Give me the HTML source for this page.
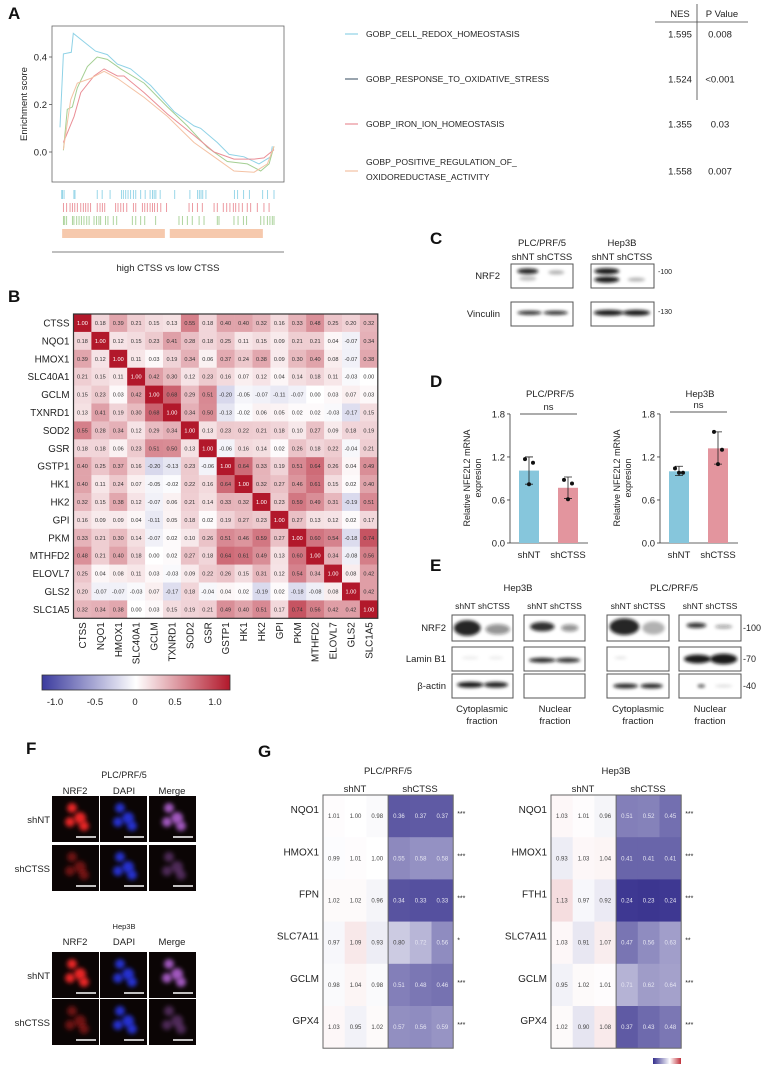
<!DOCTYPE html>
<html><head><meta charset="utf-8"><style>
html,body{margin:0;padding:0;background:#fff}
svg{display:block;font-family:"Liberation Sans",Arial,sans-serif}
</style></head><body>
<svg id="fig" width="764" height="1066" viewBox="0 0 764 1066" xmlns="http://www.w3.org/2000/svg">
<defs>
<filter id="blur1" x="-30%" y="-100%" width="160%" height="300%"><feGaussianBlur stdDeviation="1.6"/></filter>
<filter id="blur3" x="-50%" y="-50%" width="200%" height="200%"><feGaussianBlur stdDeviation="2"/></filter>
<linearGradient id="cbar" x1="0" x2="1"><stop offset="0" stop-color="#3b3b9e"/><stop offset="0.5" stop-color="#fff"/><stop offset="1" stop-color="#b2182b"/></linearGradient>
</defs>
<g font-weight="bold" font-size="17" fill="#111">
<text x="8" y="19">A</text>
<text x="8" y="302">B</text>
<text x="430" y="244">C</text>
<text x="430" y="387">D</text>
<text x="430" y="571">E</text>
<text x="26" y="754">F</text>
<text x="258" y="757">G</text>
</g>
<g id="gA"></g><g id="gB"></g><g id="gC"></g><g id="gD"></g><g id="gE"></g><g id="gF"></g><g id="gG"></g>
</svg>
<script>
var NS="http://www.w3.org/2000/svg";
function mk(p,tag,a,txt){var e=document.createElementNS(NS,tag);for(var k in a)e.setAttribute(k,a[k]);if(txt!==undefined)e.textContent=txt;p.appendChild(e);return e;}
function $(id){return document.getElementById(id);}

/* ---------- Panel A data ---------- */
var gseaNames=["GOBP_CELL_REDOX_HOMEOSTASIS","GOBP_RESPONSE_TO_OXIDATIVE_STRESS","GOBP_IRON_ION_HOMEOSTASIS","GOBP_POSITIVE_REGULATION_OF_"];
var gseaNES=["1.595","1.524","1.355","1.558"];
var gseaP=["0.008","<0.001","0.03","0.007"];
var blueX=[0,16,53,62,166,221,268,330,424,533,626,657,735,790,860,930,984,992];
var blueY=[0.104,0.413,0.42,0.50,0.425,0.41,0.37,0.35,0.28,0.17,0.11,0.10,0.04,-0.01,-0.02,-0.05,-0.02,0.024];
var greenX=[16,34,58,81,128,174,221,284,393,502,595,688,782,875,938,977,1000];
var greenY=[0.007,0.18,0.19,0.27,0.36,0.40,0.39,0.35,0.29,0.19,0.11,0.02,-0.04,-0.05,-0.08,-0.05,0.024];
var redX=[16,34,66,97,159,206,268,299,393,502,626,720,813,907,953,1000];
var redY=[0.04,0.08,0.15,0.25,0.32,0.35,0.32,0.32,0.25,0.16,0.07,0,-0.03,-0.03,-0.025,0.01];
var orangeX=[16,50,81,143,206,268,393,502,626,720,813,907,969,1000];
var orangeY=[0.01,0.22,0.29,0.31,0.34,0.31,0.23,0.15,0.04,-0.02,-0.08,-0.085,-0.05,0.024];
var rugBlue=[8,12,19,65,70,174,197,234,287,296,307,318,330,343,354,377,398,421,432,440,448,468,536,607,643,651,659,667,682,815,830,858,885,947,970,1000];
var rugRed=[16,31,47,58,69,81,97,109,120,131,143,174,187,198,209,260,271,284,296,312,343,354,385,396,408,421,432,442,455,471,498,603,619,642,665,720,735,763,779,794,810,821,836,852,875,891,922,953,977];
var rugGreen=[16,22,31,58,65,78,89,100,112,125,136,159,171,182,190,213,224,249,265,338,354,377,396,447,556,572,595,618,650,673,735,743,813,832,857,872,938,953,969,981,992,1000];
var rugOrange=[[10,490],[513,948]];
var esTicks=[0.0,0.2,0.4];

(function(){
var g=$("gA");
var X=function(r){return 60+r/1000*214;}, Y=function(v){return 152-v*237.5;};
var box=mk(g,"rect",{x:52,y:26,width:232,height:156,fill:"none",stroke:"#666","stroke-width":0.8});


esTicks.forEach(function(t){
 var tk=mk(g,"line",{x1:49,x2:52,y1:Y(t),y2:Y(t),stroke:"#555","stroke-width":0.8});
 
 
 var tl=mk(g,"text",{x:47,y:Y(t)+3.5,"font-size":9.5,"text-anchor":"end",fill:"#222"},t.toFixed(1));
 
 
});
var yt=mk(g,"text",{transform:"translate(27,104) rotate(-90)","font-size":9.5,"text-anchor":"middle",fill:"#222"},"Enrichment score");


var series=[[blueX,blueY,"#8fd2e6"],[greenX,greenY,"#a4cf93"],[redX,redY,"#ea8f97"],[orangeX,orangeY,"#f4c2a4"]];
series.forEach(function(s,i){
 var d=s[0].map(function(x,j){return (j?"L":"M")+X(x).toFixed(1)+","+Y(s[1][j]).toFixed(1);}).join("");
 var p=mk(g,"path",{d:d,fill:"none",stroke:s[2],"stroke-width":1});
 
 
});
var rugs=[[rugBlue,"#8fd2e6",190],[rugRed,"#ea8f97",203],[rugGreen,"#a4cf93",216]];
rugs.forEach(function(r,i){
 r[0].forEach(function(v){
  var l=mk(g,"line",{x1:X(v),x2:X(v),y1:r[2],y2:r[2]+9,stroke:r[1],"stroke-width":0.9});
  
  
 });
});
rugOrange.forEach(function(b){
 var r=mk(g,"rect",{x:X(b[0]),y:229,width:X(b[1])-X(b[0]),height:9,fill:"#f6c9ad"});
 
 
});
var ax=mk(g,"line",{x1:52,x2:284,y1:252,y2:252,stroke:"#555","stroke-width":0.8});


var xt=mk(g,"text",{x:168,y:271,"font-size":9.5,"text-anchor":"middle",fill:"#222"},"high CTSS vs low CTSS");


var lc=["#8fd2e6","#556677","#ea8f97","#f4c2a4"], ly=[34,79,124,171];
gseaNames.forEach(function(n,i){
 var l=mk(g,"line",{x1:345,x2:358,y1:ly[i],y2:ly[i],stroke:lc[i],"stroke-width":1.2});
 
 
 var t=mk(g,"text",{x:366,y:(i==3?165:ly[i]+3),"font-size":8.6,fill:"#222"},n);
 
 
 var ne=mk(g,"text",{x:680,y:ly[i]+3.5,"font-size":9.5,"text-anchor":"middle",fill:"#222"},gseaNES[i]);
 
 
 var pv=mk(g,"text",{x:720,y:ly[i]+3.5,"font-size":9.5,"text-anchor":"middle",fill:"#222"},gseaP[i]);
 
 
});
var t4=mk(g,"text",{x:366,y:180,"font-size":8.6,fill:"#222"},"OXIDOREDUCTASE_ACTIVITY");


var h1=mk(g,"text",{x:680,y:17,"font-size":9.5,"text-anchor":"middle",fill:"#222"},"NES");


var h2=mk(g,"text",{x:722,y:17,"font-size":9.5,"text-anchor":"middle",fill:"#222"},"P Value");


var hl=mk(g,"line",{x1:655,x2:748,y1:22,y2:22,stroke:"#444","stroke-width":0.8});


var vl=mk(g,"line",{x1:697,x2:697,y1:4,y2:100,stroke:"#444","stroke-width":0.8});


})();

/* ---------- Panel B data ---------- */
var genes=["CTSS","NQO1","HMOX1","SLC40A1","GCLM","TXNRD1","SOD2","GSR","GSTP1","HK1","HK2","GPI","PKM","MTHFD2","ELOVL7","GLS2","SLC1A5"];
var corr=[
[1.00,0.18,0.39,0.21,0.15,0.13,0.55,0.18,0.40,0.40,0.32,0.16,0.33,0.48,0.25,0.20,0.32],
[0.18,1.00,0.12,0.15,0.23,0.41,0.28,0.18,0.25,0.11,0.15,0.09,0.21,0.21,0.04,-0.07,0.34],
[0.39,0.12,1.00,0.11,0.03,0.19,0.34,0.06,0.37,0.24,0.38,0.09,0.30,0.40,0.08,-0.07,0.38],
[0.21,0.15,0.11,1.00,0.42,0.30,0.12,0.23,0.16,0.07,0.12,0.04,0.14,0.18,0.11,-0.03,0.00],
[0.15,0.23,0.03,0.42,1.00,0.68,0.29,0.51,-0.20,-0.05,-0.07,-0.11,-0.07,0.00,0.03,0.07,0.03],
[0.13,0.41,0.19,0.30,0.68,1.00,0.34,0.50,-0.13,-0.02,0.06,0.05,0.02,0.02,-0.03,-0.17,0.15],
[0.55,0.28,0.34,0.12,0.29,0.34,1.00,0.13,0.23,0.22,0.21,0.18,0.10,0.27,0.09,0.18,0.19],
[0.18,0.18,0.06,0.23,0.51,0.50,0.13,1.00,-0.06,0.16,0.14,0.02,0.26,0.18,0.22,-0.04,0.21],
[0.40,0.25,0.37,0.16,-0.20,-0.13,0.23,-0.06,1.00,0.64,0.33,0.19,0.51,0.64,0.26,0.04,0.49],
[0.40,0.11,0.24,0.07,-0.05,-0.02,0.22,0.16,0.64,1.00,0.32,0.27,0.46,0.61,0.15,0.02,0.40],
[0.32,0.15,0.38,0.12,-0.07,0.06,0.21,0.14,0.33,0.32,1.00,0.23,0.59,0.49,0.31,-0.19,0.51],
[0.16,0.09,0.09,0.04,-0.11,0.05,0.18,0.02,0.19,0.27,0.23,1.00,0.27,0.13,0.12,0.02,0.17],
[0.33,0.21,0.30,0.14,-0.07,0.02,0.10,0.26,0.51,0.46,0.59,0.27,1.00,0.60,0.54,-0.18,0.74],
[0.48,0.21,0.40,0.18,0.00,0.02,0.27,0.18,0.64,0.61,0.49,0.13,0.60,1.00,0.34,-0.08,0.56],
[0.25,0.04,0.08,0.11,0.03,-0.03,0.09,0.22,0.26,0.15,0.31,0.12,0.54,0.34,1.00,0.08,0.42],
[0.20,-0.07,-0.07,-0.03,0.07,-0.17,0.18,-0.04,0.04,0.02,-0.19,0.02,-0.18,-0.08,0.08,1.00,0.42],
[0.32,0.34,0.38,0.00,0.03,0.15,0.19,0.21,0.49,0.40,0.51,0.17,0.74,0.56,0.42,0.42,1.00]];
var cbarTicks=[-1.0,-0.5,0,0.5,1.0];

(function(){
var g=$("gB"), x0=73.5, y0=314, c=17.9, n=genes.length;
function col(v){var r,gg,b;if(v>=0){r=255-v*77;gg=255-v*231;b=255-v*212;}else{var t=-v;r=255-t*196;gg=255-t*196;b=255-t*97;}return "rgb("+Math.round(r)+","+Math.round(gg)+","+Math.round(b)+")";}
corr.forEach(function(row,i){
 row.forEach(function(v,j){
  var r=mk(g,"rect",{x:x0+j*c,y:y0+i*c,width:c+0.3,height:c+0.3,fill:col(v)});
  
  
  var t=mk(g,"text",{x:x0+j*c+c/2,y:y0+i*c+c/2+2,"font-size":5.6,"text-anchor":"middle",fill:(v>0.9?"#fff":"#333")},v.toFixed(2));
  
  
 });
});
var fr=mk(g,"rect",{x:x0,y:y0,width:n*c,height:n*c,fill:"none",stroke:"#333","stroke-width":1.2});


genes.forEach(function(gn,i){
 var t=mk(g,"text",{x:x0-4,y:y0+i*c+c/2+3.5,"font-size":9.8,"text-anchor":"end",fill:"#222"},gn);
 
 
 var xc=x0+i*c+c/2+3.5;
 var t2=mk(g,"text",{transform:"translate("+xc+","+(y0+n*c+4)+") rotate(-90)","font-size":9.8,"text-anchor":"end",fill:"#222"},gn);
 
 
});
var cb=mk(g,"rect",{x:42,y:675,width:188,height:15,fill:"url(#cbar)",stroke:"#333","stroke-width":0.8});


cbarTicks.forEach(function(t){
 var xx=55+(t+1)/2*160;
 var l=mk(g,"text",{x:xx,y:705,"font-size":9.5,"text-anchor":"middle",fill:"#222"},(t==0?"0":t.toFixed(1)));
 
 
});
})();

/* ---------- Panel C / E western blots ---------- */
function blot(g,x,y,w,h,bands,name){
 var b=mk(g,"rect",{x:x,y:y,width:w,height:h,fill:"#fff",stroke:"#555","stroke-width":1});
 
 
 bands.forEach(function(bd){
  var e=mk(g,"ellipse",{cx:x+bd[0]*w,cy:y+bd[1]*h,rx:bd[2]*w,ry:bd[3]*h,fill:"#111","fill-opacity":bd[4],filter:"url(#blur1)"});
  
  
 });
}
function txt(g,x,y,s,fs,anchor,name){var t=mk(g,"text",{x:x,y:y,"font-size":fs,"text-anchor":anchor||"start",fill:"#222"},s);return t;}
(function(){
var g=$("gC");
txt(g,542,246,"PLC/PRF/5",9.5,"middle","cell-line-title");
txt(g,622,246,"Hep3B",9.5,"middle","cell-line-title");
txt(g,542,260,"shNT shCTSS",9.5,"middle","lane-labels");
txt(g,622,260,"shNT shCTSS",9.5,"middle","lane-labels");
txt(g,500,279,"NRF2",9.5,"end","nrf2-label");
txt(g,500,317,"Vinculin",9.5,"end","vinculin-label");
blot(g,511,264,62,24,[[0.27,0.3,0.17,0.12,0.9],[0.27,0.6,0.14,0.1,0.25],[0.73,0.35,0.13,0.09,0.3]],"nrf2-blot-plc");
blot(g,591,264,63,24,[[0.25,0.3,0.2,0.13,0.95],[0.25,0.65,0.2,0.13,0.95],[0.72,0.65,0.14,0.08,0.3]],"nrf2-blot-hep3b");
blot(g,511,302,62,24,[[0.3,0.45,0.2,0.08,0.9],[0.72,0.45,0.2,0.08,0.9]],"vinculin-blot-plc");
blot(g,591,302,63,24,[[0.28,0.45,0.24,0.12,0.95],[0.72,0.45,0.22,0.12,0.95]],"vinculin-blot-hep3b");
txt(g,658,274,"-100",7,"start","mw-100");
txt(g,658,314,"-130",7,"start","mw-130");
g=$("gE");
txt(g,518,591,"Hep3B",9.5,"middle","cell-line-title");
txt(g,674,591,"PLC/PRF/5",9.5,"middle","cell-line-title");
[[452,513],[524,585],[607,669],[679,741]].forEach(function(b){txt(g,(b[0]+b[1])/2,609,"shNT shCTSS",8.6,"middle","lane-labels");});
txt(g,446,631,"NRF2",9.5,"end","nrf2-label");
txt(g,446,662,"Lamin B1",9.5,"end","laminb1-label");
txt(g,446,689,"β-actin",9.5,"end","actin-label");
blot(g,452,615,61,26,[[0.25,0.5,0.22,0.3,0.9],[0.75,0.55,0.2,0.2,0.45]],"nrf2-cyto-hep3b");
blot(g,524,615,61,26,[[0.3,0.45,0.2,0.18,0.85],[0.75,0.5,0.14,0.14,0.45]],"nrf2-nuc-hep3b");
blot(g,607,615,62,26,[[0.28,0.45,0.24,0.32,0.9],[0.75,0.5,0.18,0.25,0.3]],"nrf2-cyto-plc");
blot(g,679,615,62,26,[[0.28,0.4,0.16,0.1,0.85],[0.72,0.45,0.14,0.07,0.4]],"nrf2-nuc-plc");
blot(g,452,647,61,24,[[0.3,0.45,0.14,0.06,0.08],[0.72,0.45,0.12,0.06,0.08]],"lamin-cyto-hep3b");
blot(g,524,647,61,24,[[0.3,0.55,0.22,0.1,0.9],[0.72,0.55,0.2,0.1,0.85]],"lamin-nuc-hep3b");
blot(g,607,647,62,24,[[0.22,0.45,0.1,0.05,0.12]],"lamin-cyto-plc");
blot(g,679,647,62,24,[[0.3,0.5,0.22,0.18,0.95],[0.72,0.5,0.22,0.22,0.95]],"lamin-nuc-plc");
blot(g,452,674,61,24,[[0.3,0.45,0.22,0.12,0.95],[0.72,0.45,0.2,0.12,0.9]],"actin-cyto-hep3b");
blot(g,524,674,61,24,[],"actin-nuc-hep3b");
blot(g,607,674,62,24,[[0.3,0.5,0.2,0.1,0.9],[0.72,0.5,0.18,0.1,0.9]],"actin-cyto-plc");
blot(g,679,674,62,24,[[0.36,0.5,0.06,0.06,0.8],[0.72,0.5,0.14,0.05,0.15]],"actin-nuc-plc");
txt(g,743,631,"-100",9,"start","mw-100");
txt(g,743,662,"-70",9,"start","mw-70");
txt(g,743,689,"-40",9,"start","mw-40");
txt(g,482,712,"Cytoplasmic",9.5,"middle","fraction-label");
txt(g,482,724,"fraction",9.5,"middle","fraction-label");
txt(g,555,712,"Nuclear",9.5,"middle","fraction-label");
txt(g,555,724,"fraction",9.5,"middle","fraction-label");
txt(g,638,712,"Cytoplasmic",9.5,"middle","fraction-label");
txt(g,638,724,"fraction",9.5,"middle","fraction-label");
txt(g,710,712,"Nuclear",9.5,"middle","fraction-label");
txt(g,710,724,"fraction",9.5,"middle","fraction-label");
})();

/* ---------- Panel D data ---------- */
var dGroups=["shNT","shCTSS"];
var plcMeans=[1.01,0.77];
var plcPoints=[[1.17,1.12,0.82],[0.88,0.83,0.61]];
var plcErr=[[0.82,1.20],[0.62,0.92]];
var hepMeans=[1.00,1.32];
var hepPoints=[[1.04,0.98,0.98],[1.55,1.30,1.10]];
var hepErr=[[0.94,1.07],[1.10,1.55]];
var dTicks=[0.0,0.6,1.2,1.8];
(function(){
var g=$("gD");
function chart(ax,title,means,pts,err,nsY){
 var Y=function(v){return 543-v*71.7;};
 var xs=[ax+19,ax+58];
 var colors=["#86c6dc","#e3959e"];
 txt(g,ax+40,397,title,9.5,"middle","chart-title");
 var a=mk(g,"line",{x1:ax,x2:ax,y1:Y(1.8),y2:Y(0),stroke:"#333","stroke-width":0.8});
 
 
 var b=mk(g,"line",{x1:ax,x2:ax+78,y1:Y(0),y2:Y(0),stroke:"#333","stroke-width":0.8});
 
 
 dTicks.forEach(function(t){
  var l=mk(g,"line",{x1:ax-3,x2:ax,y1:Y(t),y2:Y(t),stroke:"#333","stroke-width":0.8});
  
  
  txt(g,ax-5,Y(t)+3.5,t.toFixed(1),9.5,"end","y-tick-label");
 });
 var yl=mk(g,"text",{transform:"translate("+(ax-40)+",478) rotate(-90)","font-size":9,"text-anchor":"middle",fill:"#222"},"Relative NFE2L2 mRNA");
 
 
 var yl2=mk(g,"text",{transform:"translate("+(ax-29)+",478) rotate(-90)","font-size":9,"text-anchor":"middle",fill:"#222"},"expresion");
 
 
 means.forEach(function(m,i){
  var r=mk(g,"rect",{x:xs[i]-10,y:Y(m),width:20,height:Y(0)-Y(m),fill:colors[i]});
  
  
  var e=mk(g,"path",{d:"M"+xs[i]+","+Y(err[i][0])+"V"+Y(err[i][1])+"M"+(xs[i]-4)+","+Y(err[i][0])+"h8M"+(xs[i]-4)+","+Y(err[i][1])+"h8",stroke:"#222","stroke-width":0.8,fill:"none"});
  
  
  pts[i].forEach(function(p,k){
   var c=mk(g,"circle",{cx:xs[i]+[-4,4,0][k],cy:Y(p),r:2,fill:"#111"});
   
   
  });
  txt(g,xs[i],558,dGroups[i],9.5,"middle","x-tick-label");
 });
 var ns=mk(g,"line",{x1:xs[0]-9,x2:xs[1]+9,y1:nsY,y2:nsY,stroke:"#222","stroke-width":0.8});
 
 
 txt(g,(xs[0]+xs[1])/2,nsY-4,"ns",9.5,"middle","ns-label");
}
chart(510,"PLC/PRF/5",plcMeans,plcPoints,plcErr,414);
chart(660,"Hep3B",hepMeans,hepPoints,hepErr,412);
})();

/* ---------- Panel F images ---------- */
(function(){
var g=$("gF");
var cols=[[52,"#ff2a2a"],[100,"#2a3cff"],[149,"#b060d0"]];
function block(y0,title,rows,tsize){
 txt(g,124,y0,title,tsize,"middle","if-title");
 txt(g,75,y0+16,"NRF2",9.5,"middle","channel-label");
 txt(g,124,y0+16,"DAPI",9.5,"middle","channel-label");
 txt(g,172,y0+16,"Merge",9.5,"middle","channel-label");
 rows.forEach(function(ry,ri){
  txt(g,50,ry+27,ri?"shCTSS":"shNT",9.5,"end","row-label");
  cols.forEach(function(c){
   var r=mk(g,"rect",{x:c[0],y:ry,width:47,height:46,fill:"#0b0505"});
   
   
   var op=ri?0.4:0.9;
   [[20,12,5],[28,22,6],[18,26,5],[32,30,5]].forEach(function(bl){
    var e=mk(g,"circle",{cx:c[0]+bl[0],cy:ry+bl[1],r:bl[2],fill:c[1],"fill-opacity":(c[0]==100?0.8:op),filter:"url(#blur3)"});
    
    
   });
   var s=mk(g,"line",{x1:c[0]+24,x2:c[0]+44,y1:ry+41,y2:ry+41,stroke:"#fff","stroke-width":1.5});
   
   
  });
 });
}
block(778,"PLC/PRF/5",[796,845],9);
block(929,"Hep3B",[952,999],7.5);
})();

/* ---------- Panel G data ---------- */
var plcGenes=["NQO1","HMOX1","FPN","SLC7A11","GCLM","GPX4"];
var plcVals=[[1.01,1.00,0.98,0.36,0.37,0.37],[0.99,1.01,1.00,0.55,0.58,0.58],[1.02,1.02,0.96,0.34,0.33,0.33],[0.97,1.09,0.93,0.80,0.72,0.56],[0.98,1.04,0.98,0.51,0.48,0.46],[1.03,0.95,1.02,0.57,0.56,0.59]];
var plcSig=["***","***","***","*","***","***"];
var hepGenes=["NQO1","HMOX1","FTH1","SLC7A11","GCLM","GPX4"];
var hepVals=[[1.03,1.01,0.96,0.51,0.52,0.45],[0.93,1.03,1.04,0.41,0.41,0.41],[1.13,0.97,0.92,0.24,0.23,0.24],[1.03,0.91,1.07,0.47,0.56,0.63],[0.95,1.02,1.01,0.71,0.62,0.64],[1.02,0.90,1.08,0.37,0.43,0.48]];
var hepSig=["***","***","***","**","***","***"];
(function(){
var g=$("gG");
function col(v){var r,gg,b;if(v<=1){var t=Math.min(1,(1-v)/0.8);r=255-t*203;gg=255-t*209;b=255-t*115;}else{var t=Math.min(1,(v-1)/0.8);r=255-t*63;gg=255-t*207;b=255-t*197;}return "rgb("+Math.round(r)+","+Math.round(gg)+","+Math.round(b)+")";}
function heat(x0,title,gn,vals,sig){
 var y0=795,cw=21.7,rh=42.2;
 txt(g,x0+65,774,title,9.5,"middle","heatmap-title");
 txt(g,x0+32,792,"shNT",9.5,"middle","group-label");
 txt(g,x0+97,792,"shCTSS",9.5,"middle","group-label");
 vals.forEach(function(row,i){
  txt(g,x0-4,y0+i*rh+rh/2-3,gn[i],10,"end","gene-label");
  row.forEach(function(v,j){
   var r=mk(g,"rect",{x:x0+j*cw,y:y0+i*rh,width:cw+0.3,height:rh+0.3,fill:col(v)});
   
   
   var t=mk(g,"text",{x:x0+j*cw+cw/2,y:y0+i*rh+rh/2+2,"font-size":6,"text-anchor":"middle",fill:(v<0.75?"#e6e6f2":"#444")},v.toFixed(2));
   
   
  });
  txt(g,x0+6*cw+4,y0+i*rh+rh/2,sig[i],7,"start","significance");
 });
 var f=mk(g,"rect",{x:x0,y:y0,width:6*cw,height:6*rh,fill:"none",stroke:"#666","stroke-width":1});
 
 
 var s=mk(g,"line",{x1:x0+3*cw,x2:x0+3*cw,y1:y0,y2:y0+6*rh,stroke:"#666","stroke-width":1});
 
 
}
heat(323,"PLC/PRF/5",plcGenes,plcVals,plcSig);
heat(551,"Hep3B",hepGenes,hepVals,hepSig);
var lg=mk(g,"linearGradient",{id:"gbar",x1:0,x2:1});
mk(lg,"stop",{offset:0,"stop-color":"#342e8c"});
mk(lg,"stop",{offset:0.6,"stop-color":"#ffffff"});
mk(lg,"stop",{offset:1,"stop-color":"#c0303a"});
var cb=mk(g,"rect",{x:653,y:1058,width:28,height:6,fill:"url(#gbar)"});


})();
</script>
</body></html>
